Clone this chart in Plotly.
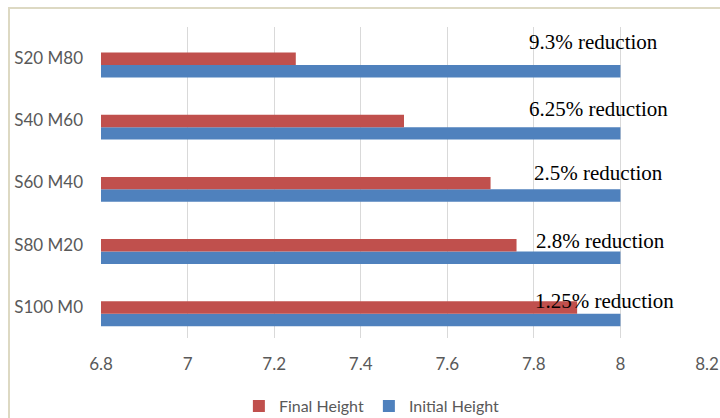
import plotly.graph_objects as go

categories = ["S100 M0", "S80 M20", "S60 M40", "S40 M60", "S20 M80"]
final_height = [7.9, 7.76, 7.7, 7.5, 7.25]
initial_height = [8, 8, 8, 8, 8]
reduction_labels = ["1.25% reduction", "2.8% reduction", "2.5% reduction",
                    "6.25% reduction", "9.3% reduction"]
x_ticks = [6.8, 7.0, 7.2, 7.4, 7.6, 7.8, 8.0, 8.2]
x_tick_text = ["6.8", "7", "7.2", "7.4", "7.6", "7.8", "8", "8.2"]

RED = "#C0504D"
BLUE = "#4F81BD"
TICK_FONT = dict(family="Lato, 'Open Sans', sans-serif", size=17, color="#595959")

fig = go.Figure()
fig.add_trace(go.Bar(
    y=categories, x=initial_height, orientation="h", name="Initial Height",
    marker=dict(color=BLUE, line=dict(width=0)), width=0.2, offset=-0.31,
    legendrank=2,
))
fig.add_trace(go.Bar(
    y=categories, x=final_height, orientation="h", name="Final Height",
    marker=dict(color=RED, line=dict(width=0)), width=0.2, offset=-0.11,
    legendrank=1,
))

# reduction labels (manually placed text boxes in the original)
label_x = [7.798, 7.801, 7.796, 7.785, 7.785]
label_shift = [6, 4, 10, 11, 16]
for cat, txt, lx, sh in zip(categories, reduction_labels, label_x, label_shift):
    fig.add_annotation(
        x=lx, y=cat, text=txt, showarrow=False, xanchor="left", yanchor="middle",
        yshift=sh, font=dict(family="'Liberation Serif', 'Times New Roman', serif",
                             size=21, color="#000000"),
    )

# outer chart border (cropped on right and bottom)
fig.add_shape(type="rect", xref="paper", yref="paper",
              x0=-0.1518, x1=1.05, y0=-0.35, y1=1.061,
              line=dict(color="#DDD9C3", width=2), fillcolor="rgba(0,0,0,0)",
              layer="below")

fig.update_layout(
    width=720, height=418,
    margin=dict(l=101, r=13, t=27, b=80, autoexpand=False),
    paper_bgcolor="white", plot_bgcolor="white",
    barmode="overlay",
    showlegend=True,
    legend=dict(orientation="h", x=0.447, y=-0.219, xanchor="center", yanchor="middle",
                font=dict(family="Lato, 'Open Sans', sans-serif", size=16, color="#595959"),
                traceorder="normal"),
    xaxis=dict(range=[6.8, 8.2], tickvals=x_ticks, ticktext=x_tick_text,
               showgrid=True, gridcolor="#D9D9D9", gridwidth=1, zeroline=False,
               showline=False, ticks="", ticklabelstandoff=14, tickfont=TICK_FONT,
               automargin=False),
    yaxis=dict(type="category", categoryorder="array", categoryarray=categories,
               showgrid=False, zeroline=False, showline=False, ticks="",
               ticklabelstandoff=17, tickfont=TICK_FONT, automargin=False),
)

fig.write_html("out.html")
